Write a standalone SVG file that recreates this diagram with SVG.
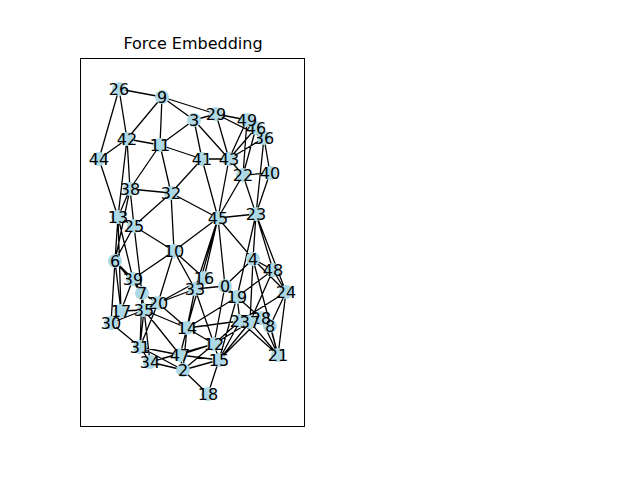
<svg xmlns="http://www.w3.org/2000/svg" width="640" height="480" viewBox="0 0 640 480">
<style>
.e{stroke:#000;stroke-width:1.3;fill:none}
.n circle{fill:#add8e6}
.n text{font-family:"DejaVu Sans",sans-serif;font-size:16px;text-anchor:middle;dominant-baseline:central;fill:#000}
</style>
<rect width="640" height="480" fill="#fff"/>
<text x="193" y="43" font-family="DejaVu Sans, sans-serif" font-size="16" text-anchor="middle" dominant-baseline="central">Force Embedding</text>
<rect x="80.5" y="58.5" width="224" height="368" fill="none" stroke="#000" stroke-width="1"/>
<g id="edges" class="e">
<path d="M119 89L162 97M119 89L127 139M119 89L99 159M162 97L127 139M162 97L160 145M162 97L194 120M162 97L216 114M194 120L216 114M194 120L160 145M194 120L202 159M194 120L229 159M216 114L229 159M216 114L247 120M216 114L264 138M127 139L160 145M127 139L99 159M127 139L130 189M127 139L118 217M99 159L118 217M160 145L202 159M160 145L171 193M160 145L130 189M202 159L229 159M202 159L218 218M202 159L171 193M229 159L218 218M229 159L247 120M229 159L256 128M229 159L243 175M229 159L264 138M256 128L243 175M256 128L264 138M264 138L270 173M264 138L256 214M247 120L243 175M243 175L270 173M243 175L218 218M243 175L256 214M270 173L256 214M130 189L171 193M130 189L118 217M130 189L134 226M130 189L115 261M171 193L174 251M171 193L218 218M171 193L134 226M118 217L134 226M118 217L115 261M118 217L133 279M118 217L121 311M134 226L174 251M134 226L115 261M134 226L142 293M174 251L218 218M174 251L204 278M174 251L195 289M174 251L133 279M174 251L158 303M218 218L256 214M218 218L253 259M218 218L204 278M218 218L195 289M218 218L225 286M218 218L187 328M256 214L253 259M256 214L273 270M256 214L286 292M256 214L237 297M253 259L273 270M253 259L286 292M253 259L225 286M253 259L250 322M253 259L278 355M273 270L237 297M273 270L286 292M273 270L250 322M225 286L195 289M225 286L237 297M225 286L214 344M204 278L195 289M204 278L158 303M286 292L278 355M286 292L270 326M286 292L240 321M237 297L240 321M237 297L187 328M237 297L270 326M237 297L219 360M195 289L158 303M195 289L187 328M195 289L214 344M158 303L142 293M158 303L144 310M158 303L187 328M158 303L140 347M142 293L133 279M142 293L144 310M142 293L140 347M133 279L115 261M133 279L121 311M115 261L121 311M115 261L111 323M115 261L142 293M121 311L111 323M121 311L144 310M111 323L140 347M111 323L144 310M144 310L187 328M144 310L140 347M144 310L180 355M144 310L150 362M187 328L214 344M187 328L180 355M187 328L240 321M187 328L183 370M140 347L150 362M140 347L180 355M140 347L183 370M180 355L214 344M180 355L183 370M180 355L219 360M150 362L183 370M150 362L214 344M183 370L219 360M183 370L208 394M183 370L214 344M214 344L219 360M214 344L240 321M214 344L250 322M219 360L240 321M219 360L250 322M219 360L261 318M219 360L208 394M261 318L278 355M261 318L270 326M250 322L278 355M270 326L278 355M240 321L278 355"/>
</g>
<g class="n">
<g id="n0"><circle cx="225" cy="286" r="7"/><text x="225" y="286">0</text></g>
<g id="n2"><circle cx="183" cy="370" r="7"/><text x="183" y="370">2</text></g>
<g id="n3"><circle cx="194" cy="120" r="7"/><text x="194" y="120">3</text></g>
<g id="n4"><circle cx="253" cy="259" r="7"/><text x="253" y="259">4</text></g>
<g id="n6"><circle cx="115" cy="261" r="7"/><text x="115" y="261">6</text></g>
<g id="n7"><circle cx="142" cy="293" r="7"/><text x="142" y="293">7</text></g>
<g id="n8"><circle cx="270" cy="326" r="7"/><text x="270" y="326">8</text></g>
<g id="n9"><circle cx="162" cy="97" r="7"/><text x="162" y="97">9</text></g>
<g id="n10"><circle cx="174" cy="251" r="7"/><text x="174" y="251">10</text></g>
<g id="n11"><circle cx="160" cy="145" r="7"/><text x="160" y="145">11</text></g>
<g id="n12"><circle cx="214" cy="344" r="7"/><text x="214" y="344">12</text></g>
<g id="n13"><circle cx="118" cy="217" r="7"/><text x="118" y="217">13</text></g>
<g id="n14"><circle cx="187" cy="328" r="7"/><text x="187" y="328">14</text></g>
<g id="n15"><circle cx="219" cy="360" r="7"/><text x="219" y="360">15</text></g>
<g id="n16"><circle cx="204" cy="278" r="7"/><text x="204" y="278">16</text></g>
<g id="n17"><circle cx="121" cy="311" r="7"/><text x="121" y="311">17</text></g>
<g id="n18"><circle cx="208" cy="394" r="7"/><text x="208" y="394">18</text></g>
<g id="n19"><circle cx="237" cy="297" r="7"/><text x="237" y="297">19</text></g>
<g id="n20"><circle cx="158" cy="303" r="7"/><text x="158" y="303">20</text></g>
<g id="n21"><circle cx="278" cy="355" r="7"/><text x="278" y="355">21</text></g>
<g id="n22"><circle cx="243" cy="175" r="7"/><text x="243" y="175">22</text></g>
<g id="n23"><circle cx="256" cy="214" r="7"/><text x="256" y="214">23</text></g>
<g id="n24"><circle cx="286" cy="292" r="7"/><text x="286" y="292">24</text></g>
<g id="n25"><circle cx="134" cy="226" r="7"/><text x="134" y="226">25</text></g>
<g id="n26"><circle cx="119" cy="89" r="7"/><text x="119" y="89">26</text></g>
<g id="n27"><circle cx="240" cy="321" r="7"/><text x="240" y="321">27</text></g>
<g id="n28"><circle cx="261" cy="318" r="7"/><text x="261" y="318">28</text></g>
<g id="n29"><circle cx="216" cy="114" r="7"/><text x="216" y="114">29</text></g>
<g id="n30"><circle cx="111" cy="323" r="7"/><text x="111" y="323">30</text></g>
<g id="n31"><circle cx="140" cy="347" r="7"/><text x="140" y="347">31</text></g>
<g id="n32"><circle cx="171" cy="193" r="7"/><text x="171" y="193">32</text></g>
<g id="n33"><circle cx="195" cy="289" r="7"/><text x="195" y="289">33</text></g>
<g id="n34"><circle cx="150" cy="362" r="7"/><text x="150" y="362">34</text></g>
<g id="n35"><circle cx="144" cy="310" r="7"/><text x="144" y="310">35</text></g>
<g id="n36"><circle cx="264" cy="138" r="7"/><text x="264" y="138">36</text></g>
<g id="n37"><circle cx="250" cy="322" r="7"/><text x="250" y="322">37</text></g>
<g id="n38"><circle cx="130" cy="189" r="7"/><text x="130" y="189">38</text></g>
<g id="n39"><circle cx="133" cy="279" r="7"/><text x="133" y="279">39</text></g>
<g id="n40"><circle cx="270" cy="173" r="7"/><text x="270" y="173">40</text></g>
<g id="n41"><circle cx="202" cy="159" r="7"/><text x="202" y="159">41</text></g>
<g id="n42"><circle cx="127" cy="139" r="7"/><text x="127" y="139">42</text></g>
<g id="n43"><circle cx="229" cy="159" r="7"/><text x="229" y="159">43</text></g>
<g id="n44"><circle cx="99" cy="159" r="7"/><text x="99" y="159">44</text></g>
<g id="n45"><circle cx="218" cy="218" r="7"/><text x="218" y="218">45</text></g>
<g id="n46"><circle cx="256" cy="128" r="7"/><text x="256" y="128">46</text></g>
<g id="n47"><circle cx="180" cy="355" r="7"/><text x="180" y="355">47</text></g>
<g id="n48"><circle cx="273" cy="270" r="7"/><text x="273" y="270">48</text></g>
<g id="n49"><circle cx="247" cy="120" r="7"/><text x="247" y="120">49</text></g>
</g>
</svg>
